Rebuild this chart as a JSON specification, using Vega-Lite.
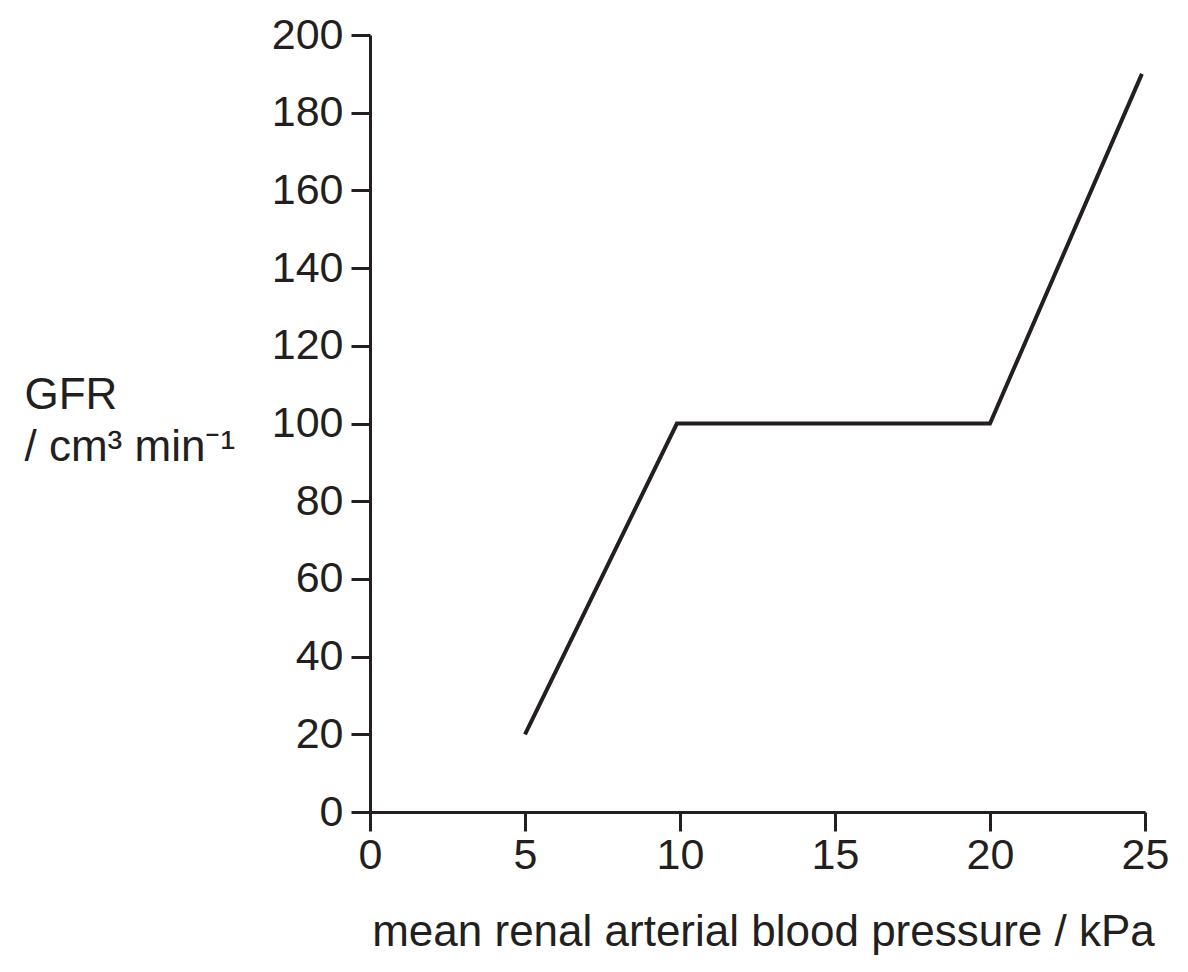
{
  "$schema": "https://vega.github.io/schema/vega-lite/v6.json",
  "width": 775,
  "height": 777,
  "autosize": {"type": "none"},
  "padding": {"left": 370, "top": 35, "right": 43, "bottom": 160},
  "background": "white",
  "config": {
    "view": {"stroke": null},
    "font": "Liberation Sans",
    "axis": {
      "grid": false,
      "domainColor": "#231f20",
      "domainWidth": 3,
      "tickColor": "#231f20",
      "tickWidth": 3,
      "tickSize": 19,
      "labelColor": "#231f20",
      "labelFont": "Liberation Sans",
      "labelFontSize": 43,
      "titleColor": "#231f20",
      "titleFont": "Liberation Sans",
      "titleFontSize": 44,
      "titleFontWeight": "normal"
    }
  },
  "data": {
    "values": [
      {"pressure": 5, "gfr": 20},
      {"pressure": 9.9, "gfr": 100},
      {"pressure": 20, "gfr": 100},
      {"pressure": 24.9, "gfr": 190}
    ]
  },
  "mark": {"type": "line", "color": "#231f20", "strokeWidth": 4, "strokeJoin": "miter"},
  "encoding": {
    "x": {
      "field": "pressure",
      "type": "quantitative",
      "scale": {"domain": [0, 25], "nice": false, "zero": true},
      "axis": {
        "values": [0, 5, 10, 15, 20, 25],
        "labelPadding": 3,
        "labelFlush": false,
        "title": "mean renal arterial blood pressure / kPa",
        "titleX": 393,
        "titleY": 133,
        "titleBaseline": "alphabetic",
        "titleAnchor": "middle"
      }
    },
    "y": {
      "field": "gfr",
      "type": "quantitative",
      "scale": {"domain": [0, 200], "nice": false},
      "axis": {
        "values": [0, 20, 40, 60, 80, 100, 120, 140, 160, 180, 200],
        "labelPadding": 8,
        "labelFlush": false,
        "title": ["GFR", "/ cm³ min⁻¹"],
        "titleAngle": 0,
        "titleAlign": "left",
        "titleBaseline": "alphabetic",
        "titleX": -346,
        "titleY": 373,
        "titleLineHeight": 52
      }
    }
  }
}
